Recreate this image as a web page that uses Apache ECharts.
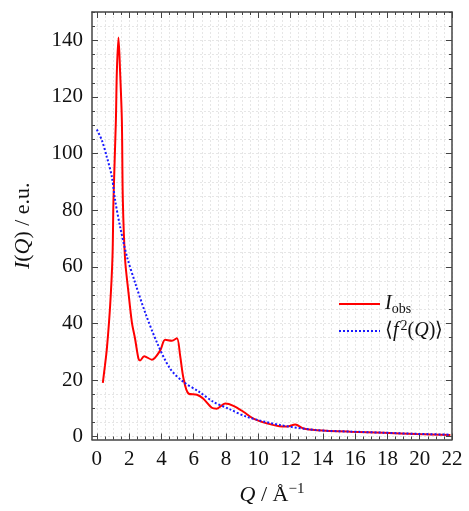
<!DOCTYPE html>
<html>
<head>
<meta charset="utf-8">
<script src="https://cdn.jsdelivr.net/npm/echarts@6/dist/echarts.min.js"></script>
<style>
  html, body { margin: 0; padding: 0; background: #fff; }
  #chart { width: 469px; height: 511px; }
</style>
</head>
<body>
<div id="chart"></div>
<script>
// measured intensity I_obs (Q in 1/Å, I in e.u.)
const obsQ = [0.37, 0.5, 0.62, 0.82, 0.97, 1.03, 1.18, 1.24, 1.34, 1.44, 1.55, 1.61, 1.75, 1.96, 2.17, 2.37, 2.58, 2.68, 2.93, 3.41, 3.92, 4.23, 4.65, 4.96, 5.16, 5.37, 5.68, 6.2, 6.6, 7.12, 7.43, 7.95, 8.46, 9.08, 9.7, 10.53, 11.3, 11.8, 12.29, 12.8, 13.63, 15.7, 17.76, 19.8, 21.9];
const obsI = [19, 25, 31, 46, 63.7, 83.6, 111.7, 129, 141, 129, 111.7, 83.6, 62.6, 50.9, 40.4, 34.5, 27.5, 26.9, 28.4, 27.2, 30.4, 34.2, 33.9, 34.8, 28.6, 20.5, 15.2, 14.8, 13.4, 10.2, 9.9, 11.7, 10.9, 8.8, 6.4, 4.7, 3.7, 3.6, 4.3, 2.9, 2.3, 1.75, 1.4, 0.9, 0.6];
// <f^2(Q)>
const fQ = [0, 0.31, 0.62, 0.93, 1.13, 1.44, 1.86, 2.37, 2.99, 3.72, 4.54, 5.37, 6.3, 7.22, 8.2, 9.29, 11.36, 13.63, 15.7, 17.76, 19.8, 21.9];
const fI = [108.5, 104.7, 98.8, 91.8, 83.6, 74.2, 63.7, 54.4, 43.9, 33.3, 24.0, 19.3, 16.0, 12.3, 9.8, 7.0, 4.1, 2.3, 1.8, 1.4, 1.0, 0.7];

const xTicks = [0, 2, 4, 6, 8, 10, 12, 14, 16, 18, 20, 22];
const yTicks = [0, 20, 40, 60, 80, 100, 120, 140];

const xMin = -0.3, xMax = 22, yMin = -1, yMax = 150;

let xMinor = [];
for (let v = 0; v <= 22; v += 0.5) xMinor.push(v);
let yMinor = [];
for (let v = 0; v <= 150; v += 5) yMinor.push(v);

const serif = "Liberation Serif";
const frame = "#444";

function zip(a, b) {
  return a.map((v, i) => [v, b[i]]);
}

function majorAxis(pos, ticks, showLabel, extra) {
  return Object.assign({
    type: "value",
    position: pos,
    axisLine: { show: true, onZero: false, lineStyle: { color: frame, width: 1.5 } },
    axisTick: { show: true, inside: true, length: 6, customValues: ticks, lineStyle: { color: frame } },
    axisLabel: showLabel
      ? { show: true, customValues: ticks, fontFamily: serif, fontSize: 21, color: "#111", margin: 9 }
      : { show: false },
    splitLine: { show: false },
  }, extra);
}

function minorAxis(pos, ticks, grid, extra) {
  return Object.assign({
    type: "value",
    position: pos,
    axisLine: { show: false, onZero: false },
    axisTick: { show: true, inside: true, length: 3, customValues: ticks, lineStyle: { color: frame } },
    axisLabel: { show: false },
    splitLine: { show: grid, lineStyle: { color: "#e6e6e6", type: [2, 2], width: 1 } },
  }, extra);
}

const chart = echarts.init(document.getElementById("chart"));
const xr = { min: xMin, max: xMax };
const yr = { min: yMin, max: yMax };

chart.setOption({
  backgroundColor: "#fff",
  animation: false,
  grid: { left: 92, right: 17, top: 12, bottom: 70 },
  legend: {
    orient: "vertical",
    left: 333,
    top: 289,
    itemWidth: 41,
    itemHeight: 12,
    itemGap: 3,
    itemStyle: { opacity: 0 },
    data: ["obs", "f2"],
    formatter: function (name) {
      return name === "obs"
        ? "{it|I}{sub|obs}"
        : "⟨{it|f}{sup|2}({it|Q})⟩";
    },
    textStyle: {
      fontFamily: serif,
      fontSize: 20,
      color: "#111",
      rich: {
        it: { fontFamily: serif, fontSize: 20, fontStyle: "italic", color: "#111" },
        sub: { fontFamily: serif, fontSize: 14, color: "#111", padding: [10, 0, 0, 0] },
        sup: { fontFamily: serif, fontSize: 14, color: "#111", padding: [0, 0, 10, 2] },
      },
    },
  },
  xAxis: [
    majorAxis("bottom", xTicks, true, Object.assign({
      name: "{it|Q} / Å{sup|−1}",
      nameLocation: "middle",
      nameGap: 42,
      nameTextStyle: {
        fontFamily: serif, fontSize: 22, color: "#111",
        rich: {
          it: { fontFamily: serif, fontSize: 22, fontStyle: "italic", color: "#111" },
          sup: { fontFamily: serif, fontSize: 15, color: "#111", padding: [0, 0, 12, 0] },
        },
      },
    }, xr)),
    minorAxis("bottom", xMinor, true, xr),
    majorAxis("top", xTicks, false, xr),
    minorAxis("top", xMinor, false, xr),
  ],
  yAxis: [
    majorAxis("left", yTicks, true, Object.assign({
      name: "{it|I}({it|Q}) / e.u.",
      nameLocation: "middle",
      nameGap: 58,
      nameRotate: 90,
      nameTextStyle: {
        fontFamily: serif, fontSize: 22, color: "#111",
        rich: {
          it: { fontFamily: serif, fontSize: 22, fontStyle: "italic", color: "#111" },
        },
      },
    }, yr)),
    minorAxis("left", yMinor, true, yr),
    majorAxis("right", yTicks, false, yr),
    minorAxis("right", yMinor, false, yr),
  ],
  series: [
    {
      name: "obs",
      type: "line",
      xAxisIndex: 0,
      yAxisIndex: 0,
      smooth: 0.3,
      symbol: "none",
      lineStyle: { color: "#ff0000", width: 2 },
      itemStyle: { color: "#ff0000" },
      data: zip(obsQ, obsI),
      z: 3,
    },
    {
      name: "f2",
      type: "line",
      xAxisIndex: 0,
      yAxisIndex: 0,
      smooth: 0.3,
      symbol: "none",
      lineStyle: { color: "#1a1aff", width: 2, type: [2, 2] },
      itemStyle: { color: "#1a1aff" },
      data: zip(fQ, fI),
      z: 4,
    },
  ],
});
</script>
</body>
</html>
